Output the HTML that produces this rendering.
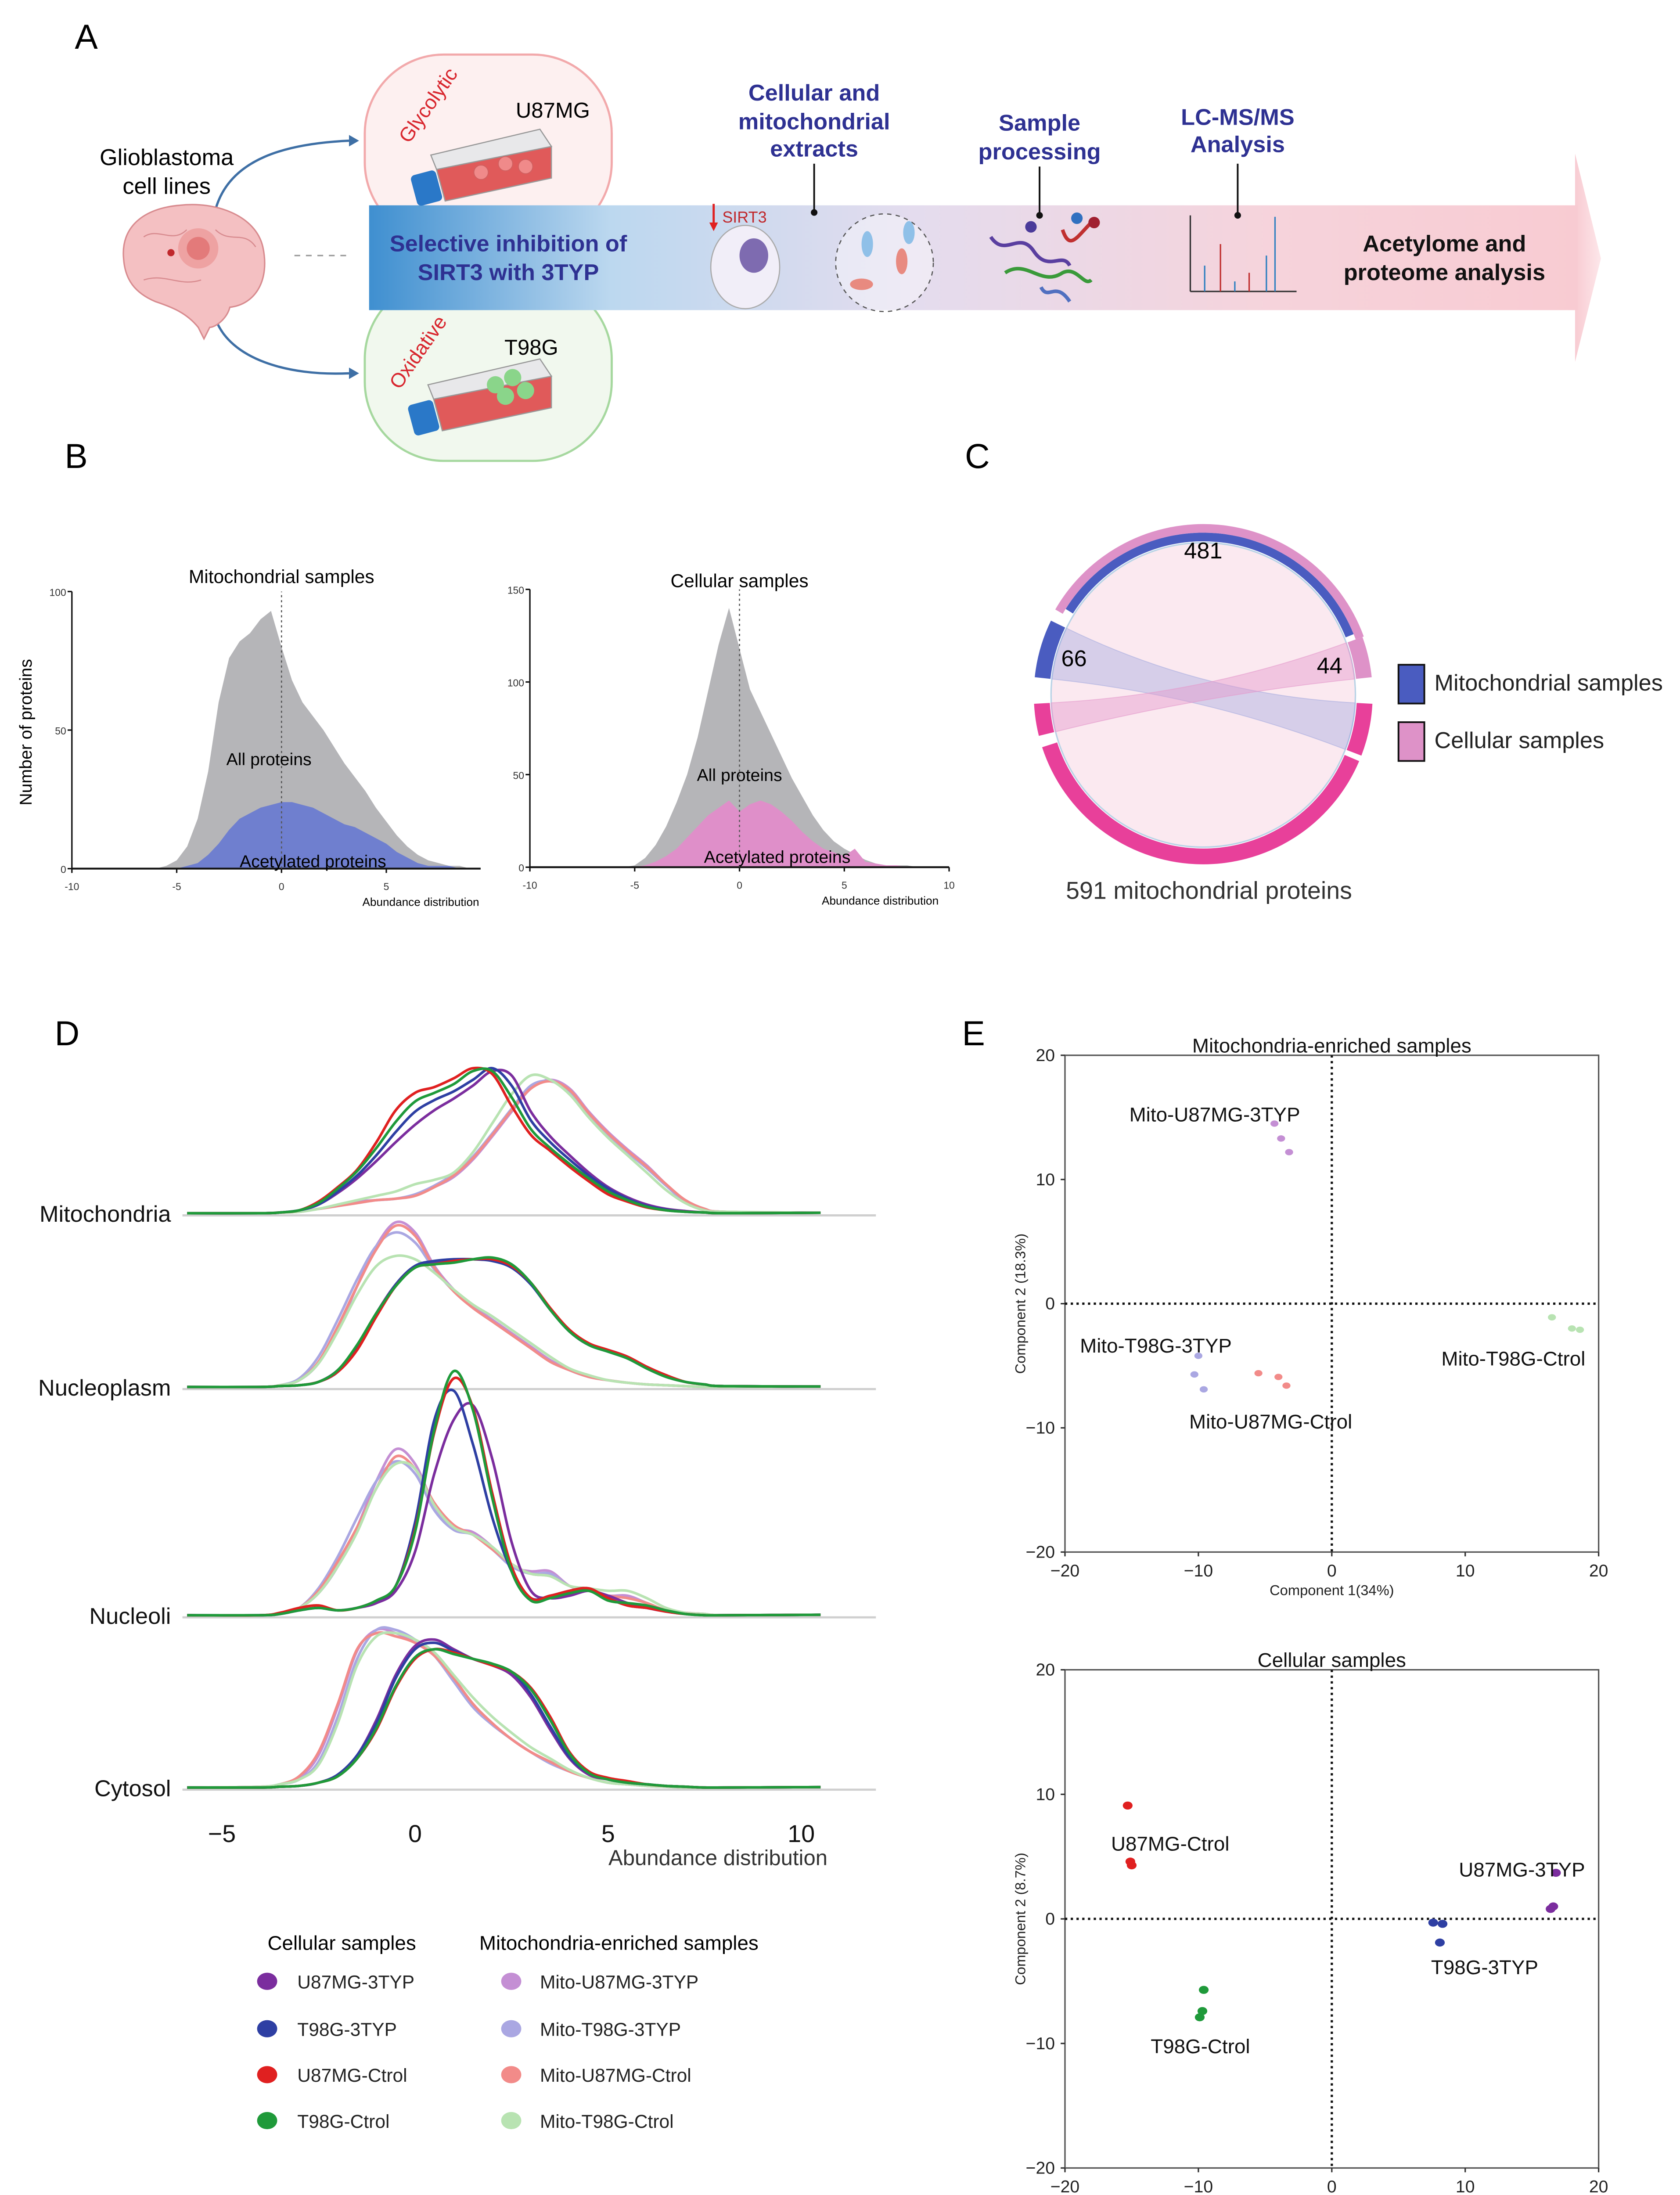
<!DOCTYPE html>
<html><head><meta charset="utf-8">
<style>
html,body{margin:0;padding:0;background:#fff;width:3827px;height:5102px;overflow:hidden;}
svg{display:block;}
text{font-family:"Liberation Sans",sans-serif;}
</style></head>
<body>
<svg id="fig" xmlns="http://www.w3.org/2000/svg" width="3827" height="5102" viewBox="0 0 1170 1560">
<defs>
<linearGradient id="bandGrad" x1="0" x2="1" y1="0" y2="0">
<stop offset="0" stop-color="#3f8fd0"/><stop offset="0.2" stop-color="#bcd8ef"/><stop offset="0.45" stop-color="#e4dcee"/><stop offset="0.75" stop-color="#f6d3db"/><stop offset="1" stop-color="#f8cbd2"/>
</linearGradient>
<linearGradient id="headGrad" x1="0" x2="1"><stop offset="0" stop-color="#f8cbd2"/><stop offset="1" stop-color="#fde7ea"/></linearGradient>
</defs>

<!-- Panel A -->
<g>
<text x="52" y="34" font-size="24">A</text>
<rect x="254" y="38" width="172" height="130" rx="55" fill="#fdf0f0" stroke="#f2a9ab" stroke-width="1.5"/>
<rect x="254" y="195" width="172" height="126" rx="55" fill="#f1f8ee" stroke="#a6d89f" stroke-width="1.5"/>
<polygon points="1097,107 1115,180 1097,252" fill="url(#headGrad)"/>
<rect x="257" y="143" width="842" height="73" fill="url(#bandGrad)"/>
<text x="116" y="115" font-size="16" text-anchor="middle">Glioblastoma</text>
<text x="116" y="135" font-size="16" text-anchor="middle">cell lines</text>
<path d="M150,146 C160,110 200,100 243,98" fill="none" stroke="#3e6fa5" stroke-width="1.6"/>
<polygon points="243,94 250,98 243,102" fill="#3e6fa5"/>
<path d="M150,222 C160,250 200,262 243,260" fill="none" stroke="#3e6fa5" stroke-width="1.6"/>
<polygon points="243,256 250,260 243,264" fill="#3e6fa5"/>
<g>
<path d="M86,180 C84,158 100,145 125,143 C150,140 178,150 183,172 C188,195 178,212 160,214 C158,222 150,228 146,228 L142,236 L138,228 C130,218 120,214 108,210 C94,204 87,195 86,180Z" fill="#f4c0c2" stroke="#d88b8f" stroke-width="1"/>
<path d="M100,165 C110,158 120,170 130,160 M150,160 C160,170 170,160 178,172 M100,195 C115,190 125,200 140,195" fill="none" stroke="#d88b8f" stroke-width="0.8"/>
<circle cx="138" cy="173" r="14" fill="#ec9a9a" opacity="0.8"/>
<circle cx="138" cy="173" r="8" fill="#e07070" opacity="0.8"/>
<circle cx="119" cy="176" r="2.5" fill="#c0282c"/>
</g>
<line x1="205" y1="178" x2="242" y2="178" stroke="#999" stroke-dasharray="4,4"/>
<text transform="translate(302,76) rotate(-55)" font-size="14" fill="#d8262e" text-anchor="middle">Glycolytic</text>
<text transform="translate(295,248) rotate(-55)" font-size="14" fill="#d8262e" text-anchor="middle">Oxidative</text>
<g>
<polygon points="304,118 384,102 384,124 310,140" fill="#e05a5a" stroke="#999" stroke-width="0.8"/>
<polygon points="304,118 384,102 376,90 300,108" fill="#e8e8ea" stroke="#999" stroke-width="0.8"/>
<circle cx="335" cy="120" r="5" fill="#f08a8a" stroke="#d06060" stroke-width="0.6"/><circle cx="352" cy="114" r="5" fill="#f08a8a" stroke="#d06060" stroke-width="0.6"/><circle cx="366" cy="116" r="5" fill="#f08a8a" stroke="#d06060" stroke-width="0.6"/>
<rect x="288" y="120" width="18" height="22" rx="3" fill="#2a78c8" transform="rotate(-15 297 131)"/>
</g>
<g>
<polygon points="302,278 384,262 384,284 308,300" fill="#e05a5a" stroke="#999" stroke-width="0.8"/>
<polygon points="302,278 384,262 376,250 298,268" fill="#e8e8ea" stroke="#999" stroke-width="0.8"/>
<circle cx="345" cy="268" r="6" fill="#8ad58a"/><circle cx="357" cy="263" r="6" fill="#8ad58a"/><circle cx="352" cy="276" r="6" fill="#8ad58a"/><circle cx="366" cy="272" r="6" fill="#8ad58a"/>
<rect x="286" y="280" width="18" height="22" rx="3" fill="#2a78c8" transform="rotate(-15 295 291)"/>
</g>
<text x="385" y="82" font-size="15" text-anchor="middle">U87MG</text>
<text x="370" y="247" font-size="15" text-anchor="middle">T98G</text>
<text x="354" y="175" font-size="16" font-weight="bold" fill="#2e3192" text-anchor="middle">Selective inhibition of</text>
<text x="354" y="195" font-size="16" font-weight="bold" fill="#2e3192" text-anchor="middle">SIRT3 with 3TYP</text>
<text x="567" y="70" font-size="16" font-weight="bold" fill="#2e3192" text-anchor="middle">Cellular and</text>
<text x="567" y="90" font-size="16" font-weight="bold" fill="#2e3192" text-anchor="middle">mitochondrial</text>
<text x="567" y="109" font-size="16" font-weight="bold" fill="#2e3192" text-anchor="middle">extracts</text>
<text x="724" y="91" font-size="16" font-weight="bold" fill="#2e3192" text-anchor="middle">Sample</text>
<text x="724" y="111" font-size="16" font-weight="bold" fill="#2e3192" text-anchor="middle">processing</text>
<text x="862" y="87" font-size="16" font-weight="bold" fill="#2e3192" text-anchor="middle">LC-MS/MS</text>
<text x="862" y="106" font-size="16" font-weight="bold" fill="#2e3192" text-anchor="middle">Analysis</text>
<line x1="567" y1="114" x2="567" y2="148" stroke="#111" stroke-width="1.2"/><circle cx="567" cy="148" r="2.3" fill="#111"/>
<line x1="724" y1="116" x2="724" y2="150" stroke="#111" stroke-width="1.2"/><circle cx="724" cy="150" r="2.3" fill="#111"/>
<line x1="862" y1="114" x2="862" y2="150" stroke="#111" stroke-width="1.2"/><circle cx="862" cy="150" r="2.3" fill="#111"/>
<ellipse cx="519" cy="186" rx="24" ry="29" fill="#f1eef8" stroke="#aaa" stroke-width="0.8"/>
<ellipse cx="525" cy="178" rx="10" ry="12" fill="#7e6bb0"/>
<line x1="497" y1="142" x2="497" y2="158" stroke="#e02020" stroke-width="1.5"/>
<polygon points="494,155 500,155 497,161" fill="#e02020"/>
<text x="503" y="155" font-size="11" fill="#c0282c">SIRT3</text>
<circle cx="616" cy="183" r="34" fill="#fff" fill-opacity="0.4" stroke="#555" stroke-dasharray="3,3" stroke-width="0.8"/>
<ellipse cx="604" cy="170" rx="4" ry="9" fill="#8fc0e8"/><ellipse cx="628" cy="182" rx="4" ry="9" fill="#e88a80"/><ellipse cx="600" cy="198" rx="8" ry="4" fill="#e88a80"/><ellipse cx="633" cy="162" rx="4" ry="8" fill="#8fc0e8"/>
<g fill="none" stroke-width="2.5">
<path d="M690,165 C700,180 710,160 720,175 C730,190 740,175 745,185" stroke="#5a3fa0"/>
<path d="M700,190 C715,180 725,200 740,190 C750,185 755,200 760,195" stroke="#3a9a3a"/>
<path d="M725,200 C730,210 735,195 745,210" stroke="#5070c0"/>
<path d="M740,160 C745,175 750,165 760,155" stroke="#c03030"/>
<circle cx="718" cy="158" r="4" fill="#4a3a9a" stroke="none"/><circle cx="750" cy="152" r="4" fill="#3070c0" stroke="none"/><circle cx="762" cy="155" r="4" fill="#a02030" stroke="none"/>
</g>
<g stroke-width="1">
<line x1="829" y1="150" x2="829" y2="203" stroke="#333"/><line x1="829" y1="203" x2="903" y2="203" stroke="#333"/>
<line x1="850" y1="203" x2="850" y2="170" stroke="#c03030"/><line x1="839" y1="203" x2="839" y2="185" stroke="#3080c0"/>
<line x1="888" y1="203" x2="888" y2="151" stroke="#3080c0"/><line x1="882" y1="203" x2="882" y2="178" stroke="#3080c0"/><line x1="870" y1="203" x2="870" y2="190" stroke="#c03030"/><line x1="860" y1="203" x2="860" y2="196" stroke="#3080c0"/>
</g>
<text x="1006" y="175" font-size="16" font-weight="bold" fill="#111" text-anchor="middle">Acetylome and</text>
<text x="1006" y="195" font-size="16" font-weight="bold" fill="#111" text-anchor="middle">proteome analysis</text>
</g>

<text x="45" y="326" font-size="24">B</text>
<text x="672" y="326" font-size="24">C</text>
<text x="38" y="728" font-size="24">D</text>
<text x="670" y="728" font-size="24">E</text>

<g id="panelB"></g>
<g id="panelC"></g>
<g id="panelD"></g>
<g id="panelE"></g>
</svg>

<script>
const NS="http://www.w3.org/2000/svg";
function mk(parent,tag,attrs,txt){const e=document.createElementNS(NS,tag);for(const k in attrs)e.setAttribute(k,attrs[k]);if(txt!==undefined)e.textContent=txt;parent.appendChild(e);return e;}

/* ---------- Panel B data ---------- */
const histBins=[-6,-5.5,-5,-4.5,-4,-3.5,-3,-2.5,-2,-1.5,-1,-0.5,0,0.5,1,1.5,2,2.5,3,3.5,4,4.5,5,5.5,6,6.5,7,7.5,8,8.5,9];
const mitoAll=[0,1,3,8,18,35,60,76,82,85,90,93,80,68,60,55,50,44,38,33,28,22,17,12,8,5,3,2,1,1,0];
const mitoAcet=[0,0,0,1,2,5,9,14,18,20,22,23,24,24,23,22,20,18,16,15,13,11,9,6,4,2,1,1,1,0,0];
const cellAll=[0,0,1,5,12,22,35,50,70,95,120,140,118,96,84,72,60,48,38,28,20,14,10,7,4,2,1,1,1,0,0];
const cellAcet=[0,0,0,1,3,6,10,16,22,28,32,36,30,34,36,34,30,25,19,14,10,8,6,10,3,2,1,1,0,0,0];
const bLeftTicksX=[-10,-5,0,5], bLeftTicksY=[0,50,100];
const bRightTicksX=[-10,-5,0,5,10], bRightTicksY=[0,50,100,150];

(function(){
 const g=document.getElementById('panelB');
 function hist(cfg){
  const sx=v=>cfg.x0+v*cfg.kx, sy=v=>cfg.y0-v*cfg.ky;
  let d=`M${sx(histBins[0])},${sy(0)}`;
  cfg.all.forEach((v,i)=>{d+=` L${sx(histBins[i])},${sy(v)}`;});
  d+=` L${sx(histBins[histBins.length-1])},${sy(0)}Z`;
  const a=mk(g,'path',{d:d,fill:'#b5b5b8'});
  
  
  let d2=`M${sx(histBins[0])},${sy(0)}`;
  cfg.acet.forEach((v,i)=>{d2+=` L${sx(histBins[i])},${sy(v)}`;});
  d2+=` L${sx(histBins[histBins.length-1])},${sy(0)}Z`;
  const b=mk(g,'path',{d:d2,fill:cfg.col});
  
  
  mk(g,'line',{x1:sx(-10),y1:sy(0),x2:sx(cfg.xmax),y2:sy(0),stroke:'#111','stroke-width':1.3});
  mk(g,'line',{x1:sx(-10),y1:sy(0),x2:sx(-10),y2:sy(cfg.ymax),stroke:'#111','stroke-width':1});
  mk(g,'line',{x1:sx(0),y1:sy(0),x2:sx(0),y2:sy(cfg.ymax),stroke:'#555','stroke-width':0.8,'stroke-dasharray':'1.5,2'});
  cfg.tx.forEach(t=>{mk(g,'line',{x1:sx(t),y1:sy(0),x2:sx(t),y2:sy(0)+3,stroke:'#111'});
   const l=mk(g,'text',{x:sx(t),y:sy(0)+15,'font-size':7,'text-anchor':'middle',fill:'#333'},String(t));
   });
  cfg.ty.forEach(t=>{mk(g,'line',{x1:sx(-10)-3,y1:sy(t),x2:sx(-10),y2:sy(t),stroke:'#111'});
   const l=mk(g,'text',{x:sx(-10)-4,y:sy(t)+3,'font-size':7,'text-anchor':'end',fill:'#333'},String(t));
   });
  const t1=mk(g,'text',{x:sx(0),y:cfg.titleY,'font-size':13,'text-anchor':'middle'},cfg.title);
  
  const t2=mk(g,'text',{x:sx(cfg.allLX),y:cfg.allLY,'font-size':12,'text-anchor':'middle'},'All proteins');
  
  const t3=mk(g,'text',{x:sx(cfg.acLX),y:cfg.acLY,'font-size':12,'text-anchor':'middle'},'Acetylated proteins');
  
  const t4=mk(g,'text',{x:cfg.abX,y:cfg.abY,'font-size':8,'text-anchor':'middle'},'Abundance distribution');
  
 }
 hist({name:'mitochondrial',x0:196,kx:14.6,y0:605,ky:1.93,all:mitoAll,acet:mitoAcet,col:'#6f7fcf',xmax:9.5,ymax:100,tx:bLeftTicksX,ty:bLeftTicksY,title:'Mitochondrial samples',titleY:406,allLX:-0.6,allLY:533,acLX:1.5,acLY:604,abX:293,abY:631});
 hist({name:'cellular',x0:515,kx:14.6,y0:604,ky:1.29,all:cellAll,acet:cellAcet,col:'#df8fc9',xmax:10,ymax:150,tx:bRightTicksX,ty:bRightTicksY,title:'Cellular samples',titleY:409,allLX:0,allLY:544,acLX:1.8,acLY:601,abX:613,abY:630});
 const yl=mk(g,'text',{transform:'translate(22,510) rotate(-90)','font-size':12,'text-anchor':'middle'},'Number of proteins');
 
})();

/* ---------- Panel C ---------- */
const chordLabels=['481','66','44'];
const chordTotal='591 mitochondrial proteins';
(function(){
 const g=document.getElementById('panelC');
 const cx=838,cy=484;
 const P=(r,a)=>[cx+r*Math.cos(a*Math.PI/180),cy+r*Math.sin(a*Math.PI/180)];
 function arc(r1,r2,a1,a2,col,name){
  const [x1,y1]=P(r2,a1),[x2,y2]=P(r2,a2),[x3,y3]=P(r1,a2),[x4,y4]=P(r1,a1);
  const lg=(a2-a1)>180?1:0;
  const e=mk(g,'path',{d:`M${x1},${y1} A${r2},${r2} 0 ${lg} 1 ${x2},${y2} L${x3},${y3} A${r1},${r1} 0 ${lg} 0 ${x4},${y4}Z`,fill:col});
  
 }
 const disk=mk(g,'circle',{cx:cx,cy:cy,r:106,fill:'#fbe9f0',stroke:'#b9d3e6','stroke-width':1});
 
 function ribbon(a1,a2,b1,b2,col,name){
  const r=106;
  const [x1,y1]=P(r,a1),[x2,y2]=P(r,a2),[x3,y3]=P(r,b1),[x4,y4]=P(r,b2);
  const e=mk(g,'path',{d:`M${x1},${y1} A${r},${r} 0 0 1 ${x2},${y2} Q${cx},${cy} ${x3},${y3} A${r},${r} 0 0 1 ${x4},${y4} Q${cx},${cy} ${x1},${y1}Z`,fill:col,'fill-opacity':0.45,stroke:col,'stroke-opacity':0.6,'stroke-width':0.6});
  
 }
 ribbon(186,206,3,21,'#a9aee0','mito-only-chord');
 ribbon(340,354,166,177,'#e59acb','cellular-only-chord');
 arc(107,113,212,338,'#4a5cc0','mitochondrial-arc-481');
 arc(113,119,210,340,'#de92c8','cellular-overlap-arc');
 arc(107,118,186,206,'#4a5cc0','mitochondrial-only-arc-66');
 arc(107,118,340,354,'#de92c8','cellular-only-arc-44');
 arc(107,118,3,21,'#e8409a','cellular-arc-right');
 arc(107,118,23,162,'#e8409a','cellular-arc-bottom');
 arc(107,118,166,177,'#e8409a','cellular-arc-left');
 const l1=mk(g,'text',{x:838,y:389,'font-size':16,'text-anchor':'middle'},chordLabels[0]);
 
 const l2=mk(g,'text',{x:748,y:464,'font-size':16,'text-anchor':'middle'},chordLabels[1]);
 
 const l3=mk(g,'text',{x:926,y:469,'font-size':16,'text-anchor':'middle'},chordLabels[2]);
 
 const l4=mk(g,'text',{x:842,y:626,'font-size':17,'text-anchor':'middle',fill:'#333'},chordTotal);
 
 const b1=mk(g,'rect',{x:974,y:463,width:18,height:27,fill:'#4a5cc0',stroke:'#111','stroke-width':1.2});
 
 const b2=mk(g,'rect',{x:974,y:503,width:18,height:27,fill:'#de92c8',stroke:'#111','stroke-width':1.2});
 
 const t1=mk(g,'text',{x:999,y:481,'font-size':16,fill:'#222'},'Mitochondrial samples');
 
 const t2=mk(g,'text',{x:999,y:521,'font-size':16,fill:'#222'},'Cellular samples');
 
})();

/* ---------- Panel D data: density ridges ---------- */
const dGrid=[-4,-3.5,-3,-2.5,-2,-1.5,-1,-0.5,0,0.5,1,1.5,2,2.5,3,3.5,4,4.5,5,5.5,6,6.5,7,7.5,8];
const dSeries=['U87MG-3TYP','T98G-3TYP','U87MG-Ctrol','T98G-Ctrol','Mito-U87MG-3TYP','Mito-T98G-3TYP','Mito-U87MG-Ctrol','Mito-T98G-Ctrol'];
const dColors=['#7b2d9e','#2e3fa3','#e02020','#1f9a3a','#c48fd4','#aaa7e2','#f28b89','#b8e3b2'];
const dPanels=['Mitochondria','Nucleoplasm','Nucleoli','Cytosol'];
const dTicks=[-5,0,5,10];
// Mitochondria
const mitoP_U87_3TYP=[0,0.5,2,6,14,24,36,49,61,71,79,88,98,95,70,53,40,28,18,11,6,3,1.5,0.5,0];
const mitoP_T98_3TYP=[0,0.5,2,6,15,26,40,56,70,78,84,92,100,88,64,49,37,26,17,10,5,2.5,1,0.5,0];
const mitoP_U87_Ctrl=[0,0.5,2,8,18,30,49,71,83,87,93,100,96,74,54,43,32,22,13,8,4,2,1,0.5,0];
const mitoP_T98_Ctrl=[0,0.5,2,7,17,29,45,63,77,83,89,98,98,80,58,45,34,24,15,9,4.5,2,1,0.5,0];
const mitoP_mU87_3TYP=[0,0.5,1,3,5,8,9,10,12,18,25,37,53,70,86,92,86,70,56,44,33,20,9,3,1];
const mitoP_mT98_3TYP=[0,0.5,1,3,5,7,9,10,13,19,27,39,55,72,88,91,84,68,54,42,31,19,8,3,1];
const mitoP_mU87_Ctrl=[0,0.5,1,3,5,7,9,10,12,18,26,38,54,71,86,91,85,69,55,43,32,20,9,3,1];
const mitoP_mT98_Ctrl=[0,0.5,1,3,6,9,12,15,20,23,28,42,62,82,95,92,82,66,52,40,28,16,7,2,1];
// Nucleoplasm
const nucP_U87_3TYP=[0,0.5,1,3,10,24,44,61,72,74,75,76,76,72,62,46,33,25,22,18,12,7,3,1.5,0.5];
const nucP_T98_3TYP=[0,0.5,1,3,9,23,43,61,72,75,76,76,75,71,61,46,33,25,21,17,11,6,3,1.5,0.5];
const nucP_U87_Ctrl=[0,0.5,1,3,9,22,42,60,71,73,75,76,76,72,62,47,34,26,22,18,12,7,3,1.5,0.5];
const nucP_T98_Ctrl=[0,0.5,1,3,10,25,44,60,71,73,74,76,77,73,62,46,33,25,21,17,11,6,3,1.5,0.5];
const nucP_mU87_3TYP=[0,1,4,14,34,60,84,98,92,72,58,48,40,32,24,16,10,6,4,2.5,1.5,1,0.5,0,0];
const nucP_mT98_3TYP=[0,1,5,18,40,64,84,92,86,70,57,47,39,31,23,15,10,6,4,2.5,1.5,1,0.5,0,0];
const nucP_mU87_Ctrl=[0,1,4,15,36,60,82,96,90,71,57,47,39,31,23,15,10,6,4,2.5,1.5,1,0.5,0,0];
const nucP_mT98_Ctrl=[0,1,4,14,33,55,72,78,76,68,58,49,42,34,26,18,11,7,4,2.5,1.5,1,0.5,0,0];
// Nucleoli
const nclP_U87_3TYP=[0,0.5,2,3,2,3,5,10,26,58,80,86,64,30,10,7,8,10,8,5,3,1.5,0.5,0,0];
const nclP_T98_3TYP=[0,0.5,2,3,2,3,6,12,38,80,92,70,40,18,7,8,10,11,7,4,3,1.5,0.5,0,0];
const nclP_U87_Ctrl=[0,1,3,4,2,3,6,12,35,75,97,85,50,20,7,8,10,11,7,4,3,1.5,0.5,0,0];
const nclP_T98_Ctrl=[0,0.5,2,3,2,3,6,12,34,76,100,84,48,18,6,7,9,10,6,5,4,2,0.5,0,0];
const nclP_mU87_3TYP=[0,1,3,9,20,36,55,68,62,45,36,34,28,20,18,18,12,10,8,8,5,2,1,0.5,0];
const nclP_mT98_3TYP=[0,1,3,11,24,40,55,63,58,43,35,33,27,20,17,17,12,10,8,7,5,2,1,0.5,0];
const nclP_mU87_Ctrl=[0,1,3,10,22,36,52,65,60,46,37,33,27,21,17,16,12,10,8,7,5,2,1,0.5,0];
const nclP_mT98_Ctrl=[0,1,3,9,20,34,52,62,60,45,36,33,28,21,17,16,12,11,10,10,7,3,1,0.5,0];
// Cytosol
const cytP_U87_3TYP=[0,0.5,1,3,8,20,42,70,88,92,86,80,76,70,56,36,18,8,5,3,2,1,0.5,0,0];
const cytP_T98_3TYP=[0,0.5,1,3,8,20,40,68,86,90,85,80,76,72,58,38,19,9,5,3,2,1,0.5,0,0];
const cytP_U87_Ctrl=[0,0.5,1,3,7,18,36,62,80,86,84,80,76,72,62,44,22,10,6,4,2,1,0.5,0,0];
const cytP_T98_Ctrl=[0,0.5,1,3,7,18,37,63,81,86,83,80,77,72,61,42,21,9,5,3,2,1,0.5,0,0];
const cytP_mU87_3TYP=[0.5,2,6,20,50,85,98,96,90,82,68,52,40,30,22,16,10,6,3,2,1,0.5,0,0,0];
const cytP_mT98_3TYP=[0.5,2,5,16,44,80,98,98,92,82,66,50,39,30,22,15,10,6,3,2,1,0.5,0,0,0];
const cytP_mU87_Ctrl=[0.5,2,7,22,52,86,96,94,90,82,68,52,40,30,22,16,10,6,3,2,1,0.5,0,0,0];
const cytP_mT98_Ctrl=[0.5,2,5,14,40,76,94,96,92,84,70,56,44,34,25,18,11,6,3,2,1,0.5,0,0,0];

const dData=[
 [mitoP_U87_3TYP,mitoP_T98_3TYP,mitoP_U87_Ctrl,mitoP_T98_Ctrl,mitoP_mU87_3TYP,mitoP_mT98_3TYP,mitoP_mU87_Ctrl,mitoP_mT98_Ctrl],
 [nucP_U87_3TYP,nucP_T98_3TYP,nucP_U87_Ctrl,nucP_T98_Ctrl,nucP_mU87_3TYP,nucP_mT98_3TYP,nucP_mU87_Ctrl,nucP_mT98_Ctrl],
 [nclP_U87_3TYP,nclP_T98_3TYP,nclP_U87_Ctrl,nclP_T98_Ctrl,nclP_mU87_3TYP,nclP_mT98_3TYP,nclP_mU87_Ctrl,nclP_mT98_Ctrl],
 [cytP_U87_3TYP,cytP_T98_3TYP,cytP_U87_Ctrl,cytP_T98_Ctrl,cytP_mU87_3TYP,cytP_mT98_3TYP,cytP_mU87_Ctrl,cytP_mT98_Ctrl]
];

(function(){
 const g=document.getElementById('panelD');
 const X0=289,KX=26.9;
 const sx=v=>X0+v*KX;
 const baselines=[845,966,1125,1245];
 const heights=[101,117,170,112];
 function smooth(pts){
  let d=`M${pts[0][0]},${pts[0][1]}`;
  for(let i=0;i<pts.length-1;i++){
   const p0=pts[Math.max(0,i-1)],p1=pts[i],p2=pts[i+1],p3=pts[Math.min(pts.length-1,i+2)];
   const c1=[p1[0]+(p2[0]-p0[0])/6,p1[1]+(p2[1]-p0[1])/6],c2=[p2[0]-(p3[0]-p1[0])/6,p2[1]-(p3[1]-p1[1])/6];
   d+=` C${c1[0]},${c1[1]} ${c2[0]},${c2[1]} ${p2[0]},${p2[1]}`;
  }
  return d;
 }
 const order=[4,5,6,7,0,1,2,3];
 dPanels.forEach((pn,pi)=>{
  const by=baselines[pi],h=heights[pi];
  const bl=mk(g,'line',{x1:127,y1:by+1.5,x2:610,y2:by+1.5,stroke:'#cfcfcf','stroke-width':1.5});
  
  const lab=mk(g,'text',{x:119,y:by+6,'font-size':16,'text-anchor':'end',fill:'#111'},pn);
  
  order.forEach(si=>{
   const vals=dData[pi][si];
   const pts=[[sx(-5.9),by]];
   dGrid.forEach((x,i)=>pts.push([sx(x),by-vals[i]/100*h]));
   pts.push([sx(10.5),by-0.3]);
   const p=mk(g,'path',{d:smooth(pts),fill:'none',stroke:dColors[si],'stroke-width':1.8,'stroke-linejoin':'round'});
   
   
  });
 });
 dTicks.forEach(t=>{
  const l=mk(g,'text',{x:sx(t),y:1283,'font-size':17,'text-anchor':'middle',fill:'#111'},t<0?'\u2212'+Math.abs(t):String(t));
  
 });
 const at=mk(g,'text',{x:500,y:1299,'font-size':15,'text-anchor':'middle',fill:'#333'},'Abundance distribution');
 
 const h1=mk(g,'text',{x:238,y:1358,'font-size':14,'text-anchor':'middle'},'Cellular samples');
 
 const h2=mk(g,'text',{x:431,y:1358,'font-size':14,'text-anchor':'middle'},'Mitochondria-enriched samples');
 
 const ly=[1380,1413,1445,1477];
 dSeries.forEach((s,i)=>{
  const col=i<4?0:1, row=i%4;
  const cxp=col?356:186, tx=col?376:207;
  const el=mk(g,'ellipse',{cx:cxp,cy:ly[row],rx:7,ry:6,fill:dColors[i]});
  
  const t=mk(g,'text',{x:tx,y:ly[row]+5,'font-size':13,fill:'#222'},s);
  
 });
})();

/* ---------- Panel E data: PCA scatter ---------- */
const pcaTicks=[-20,-10,0,10,20];
const mitoGroups=['Mito-U87MG-3TYP','Mito-T98G-3TYP','Mito-U87MG-Ctrol','Mito-T98G-Ctrol'];
const mitoX=[[-4.3,-3.8,-3.2],[-10,-10.3,-9.6],[-5.5,-4,-3.4],[16.5,18,18.6]];
const mitoY=[[14.5,13.3,12.2],[-4.2,-5.7,-6.9],[-5.6,-5.9,-6.6],[-1.1,-2,-2.1]];
const cellGroups=['U87MG-Ctrol','U87MG-3TYP','T98G-3TYP','T98G-Ctrol'];
const cellX=[[-15.3,-15.1,-15],[16.8,16.4,16.6],[7.6,8.3,8.1],[-9.6,-9.7,-9.9]];
const cellY=[[9.1,4.6,4.3],[3.7,0.8,1],[-0.3,-0.4,-1.9],[-5.7,-7.4,-7.9]];
(function(){
 const g=document.getElementById('panelE');
 function plot(cfg){
  const L=741.7,R=1113.4,T=cfg.top,B=cfg.bot;
  const sx=v=>L+(v+20)/40*(R-L), sy=v=>B-(v+20)/40*(B-T);
  const box=mk(g,'rect',{x:L,y:T,width:R-L,height:B-T,fill:'none',stroke:'#555','stroke-width':1});
  
  mk(g,'line',{x1:L,y1:sy(0),x2:R,y2:sy(0),stroke:'#111','stroke-width':1.6,'stroke-dasharray':'1.6,2.4'});
  mk(g,'line',{x1:sx(0),y1:T,x2:sx(0),y2:B,stroke:'#111','stroke-width':1.6,'stroke-dasharray':'1.6,2.4'});
  pcaTicks.forEach(t=>{
   mk(g,'line',{x1:sx(t),y1:B,x2:sx(t),y2:B+3,stroke:'#333'});
   mk(g,'line',{x1:L-3,y1:sy(t),x2:L,y2:sy(t),stroke:'#333'});
   const a=mk(g,'text',{x:sx(t),y:B+17,'font-size':12,'text-anchor':'middle',fill:'#222'},t<0?'\u2212'+Math.abs(t):String(t));
   
   const b=mk(g,'text',{x:L-7,y:sy(t)+4,'font-size':12,'text-anchor':'end',fill:'#222'},t<0?'\u2212'+Math.abs(t):String(t));
   
  });
  const tt=mk(g,'text',{x:(L+R)/2,y:T-2,'font-size':14,'text-anchor':'middle',fill:'#111'},cfg.title);
  
  const xt=mk(g,'text',{x:(L+R)/2,y:B+30,'font-size':10,'text-anchor':'middle',fill:'#222'},cfg.xlab);
  
  const yt=mk(g,'text',{transform:`translate(714,${(T+B)/2}) rotate(-90)`,'font-size':10,'text-anchor':'middle',fill:'#222'},cfg.ylab);
  
  cfg.groups.forEach((gn,gi)=>{
   cfg.xs[gi].forEach((xv,k)=>{
    const c=mk(g,'ellipse',{cx:sx(xv),cy:sy(cfg.ys[gi][k]),rx:cfg.r+0.6,ry:cfg.r,fill:cfg.cols[gi]});
    
    
   });
   const lt=mk(g,'text',{x:cfg.lx[gi],y:cfg.ly[gi],'font-size':14,'text-anchor':'middle',fill:'#111'},gn);
   
  });
 }
 plot({name:'mitochondria-enriched',top:735,bot:1081,title:'Mitochondria-enriched samples',xlab:'Component 1(34%)',ylab:'Component 2 (18.3%)',groups:mitoGroups,xs:mitoX,ys:mitoY,cols:['#c48fd4','#aaa7e2','#f28b89','#b8e3b2'],r:2.2,lx:[846,805,885,1054],ly:[781,942,995,951]});
 plot({name:'cellular',top:1163,bot:1510,title:'Cellular samples',xlab:'Component 1(59%)',ylab:'Component 2 (8.7%)',groups:cellGroups,xs:cellX,ys:cellY,cols:['#e02020','#7b2d9e','#2e3fa3','#1f9a3a'],r:2.8,lx:[815,1060,1034,836],ly:[1289,1307,1375,1430]});
})();
</script>
</body></html>
